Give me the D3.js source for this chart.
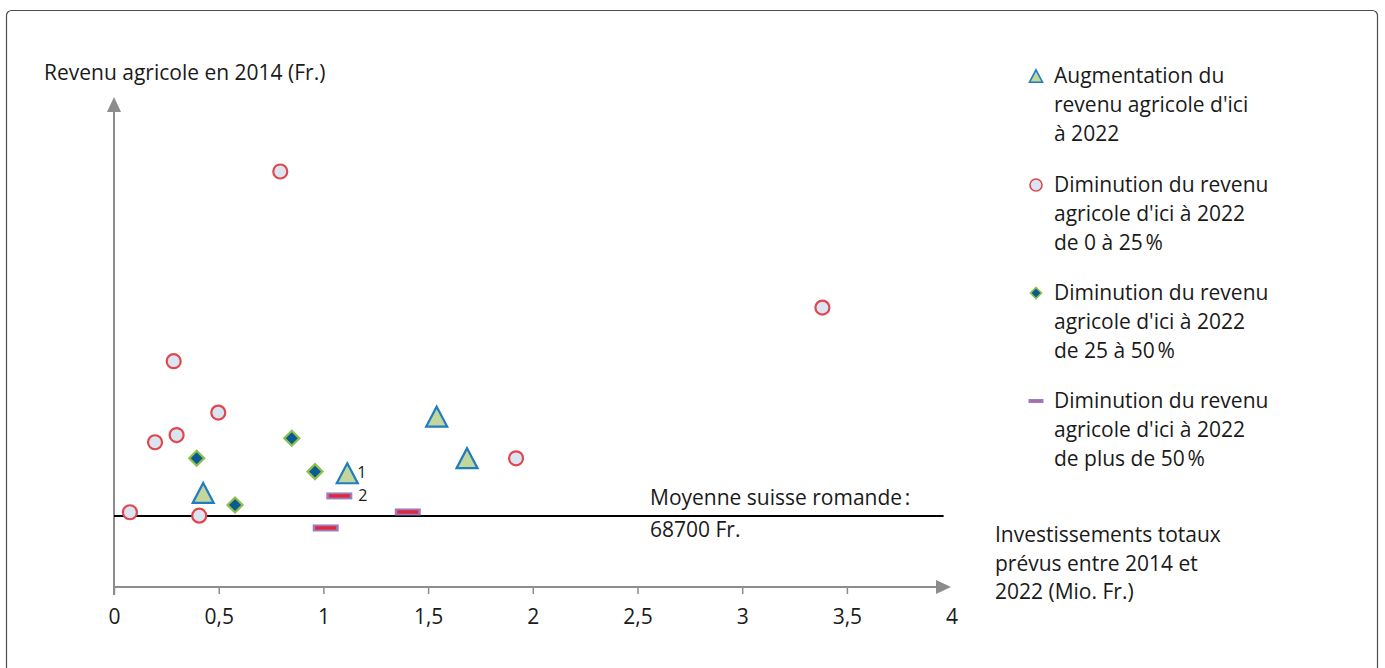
<!DOCTYPE html>
<html><head><meta charset="utf-8">
<script src="https://cdn.jsdelivr.net/npm/d3@7"></script>
<style>
body{margin:0;background:#fff;}
svg text{font-family:"Open Sans",sans-serif;fill:#1a1a1a;}
</style></head>
<body><svg id="c" width="1385" height="668"></svg>
<script>
// ---- data ----
const xTicks = [0, 0.5, 1, 1.5, 2, 2.5, 3, 3.5, 4];
const xTickLabels = ["0", "0,5", "1", "1,5", "2", "2,5", "3", "3,5", "4"];
const meanValue = 68700;
// Augmentation du revenu agricole
const incX = [0.426, 1.114, 1.541, 1.686];
const incY = [91000, 110000, 164800, 124600];
const incLabels = ["", "1", "", ""];
// Diminution 0 à 25 %
const d25X = [0.076, 0.196, 0.299, 0.498, 0.407, 0.794, 0.285, 3.383, 1.920];
const d25Y = [72300, 140000, 147000, 168700, 69000, 401900, 218400, 270300, 124500];
// Diminution 25 à 50 %
const d50X = [0.395, 0.849, 0.960, 0.578];
const d50Y = [124500, 143900, 111600, 79300];
// Diminution plus de 50 %
const dMoreX = [1.076, 1.011, 1.403];
const dMoreY = [88100, 57100, 72600];
const dMoreLabels = ["2", "", ""];
const legendLabels = [
  ["Augmentation du", "revenu agricole d'ici", "à 2022"],
  ["Diminution du revenu", "agricole d'ici à 2022", "de 0 à 25\u202F%"],
  ["Diminution du revenu", "agricole d'ici à 2022", "de 25 à 50\u202F%"],
  ["Diminution du revenu", "agricole d'ici à 2022", "de plus de 50\u202F%"]
];

const svg = d3.select("#c");
const x = d3.scaleLinear().domain([0, 4]).range([114, 951.6]);
const y = d3.scaleLinear().domain([0, 473000]).range([587, 98]);
const axisCol = "#8c8c8c";
const FS = 21;

// frame
svg.append("rect").attr("x", 6.5).attr("y", 10.5).attr("width", 1371).attr("height", 680)
  .attr("rx", 5).attr("fill", "none").attr("stroke", "#4d4d4d").attr("stroke-width", 1.2);

// axes
const xAxis = svg.append("g").attr("transform", `translate(0,${y(0)})`)
  .call(d3.axisBottom(x).tickValues(xTicks).tickSize(7).tickFormat((d, i) => xTickLabels[i]));
xAxis.attr("font-size", 21).attr("font-family", "'Open Sans',sans-serif");
xAxis.select(".domain").remove();
xAxis.selectAll(".tick line").attr("stroke", axisCol).attr("stroke-width", 1.5)
  .attr("opacity", d => d === 4 ? 0 : 1);
xAxis.selectAll(".tick text").style("font-size", "21px").attr("y", 37).attr("dy", 0)
  .attr("fill", "#1a1a1a");

svg.append("line").attr("x1", x(0)).attr("x2", 938).attr("y1", y(0)).attr("y2", y(0))
  .attr("stroke", axisCol).attr("stroke-width", 2);
svg.append("path").attr("d", `M${936},${y(0) - 7} L${951},${y(0)} L${936},${y(0) + 7} Z`).attr("fill", axisCol);
svg.append("line").attr("x1", x(0)).attr("x2", x(0)).attr("y1", y(0) + 8).attr("y2", 110)
  .attr("stroke", axisCol).attr("stroke-width", 2);
svg.append("path").attr("d", `M${x(0) - 7},${112} L${x(0)},${97} L${x(0) + 7},${112} Z`).attr("fill", axisCol);

// axis titles
svg.append("text").attr("x", 44).attr("y", 80).attr("font-size", FS).text("Revenu agricole en 2014 (Fr.)");
const xt = svg.append("text").attr("font-size", FS);
["Investissements totaux", "prévus entre 2014 et", "2022 (Mio. Fr.)"].forEach((t, i) =>
  xt.append("tspan").attr("x", 995).attr("y", 542 + i * 28.5).text(t));

// mean line
svg.append("line").attr("x1", x(0)).attr("x2", x(4) - 8).attr("y1", y(meanValue)).attr("y2", y(meanValue))
  .attr("stroke", "#000").attr("stroke-width", 2);
svg.append("text").attr("x", 650).attr("y", 505).attr("font-size", FS).text("Moyenne suisse romande\u202F:");
svg.append("text").attr("x", 650).attr("y", 537).attr("font-size", FS).text("68700 Fr.");

// marker helpers
function tri(g, s) {
  const h = s * 0.95;
  g.append("path").attr("d", `M0,${-h / 2} L${s / 2},${h / 2} L${-s / 2},${h / 2} Z`)
    .attr("fill", "#c3d69b").attr("stroke", "#1f7cc1").attr("stroke-width", s > 15 ? 2.2 : 1.6).attr("stroke-linejoin", "miter");
}
function circ(g, r) {
  g.append("circle").attr("r", r).attr("fill", "#dbe5f1").attr("stroke", "#e0474c").attr("stroke-width", r > 6 ? 2.2 : 1.6);
}
function dia(g, s) {
  g.append("path").attr("d", `M0,${-s / 2} L${s / 2},0 L0,${s / 2} L${-s / 2},0 Z`)
    .attr("fill", "#0b5a94").attr("stroke", "#8dc14c").attr("stroke-width", s > 12 ? 2.2 : 1.6);
}
function dash(g, w, h) {
  g.append("rect").attr("x", -w / 2).attr("y", -h / 2).attr("width", w).attr("height", h).attr("fill", "#9a7ec0");
  g.append("rect").attr("x", -w / 2 + 2.5).attr("y", -h / 2 + 1.8).attr("width", w - 5).attr("height", h - 3.6).attr("fill", "#e0283a");
}

const data = (xs, ys, ls) => xs.map((v, i) => ({ x: v, y: ys[i], l: ls ? ls[i] : "" }));

svg.selectAll("g.d25").data(data(d25X, d25Y)).join("g").attr("class", "d25")
  .attr("transform", d => `translate(${x(d.x)},${y(d.y)})`).each(function () { circ(d3.select(this), 7); });
svg.selectAll("g.d50").data(data(d50X, d50Y)).join("g").attr("class", "d50")
  .attr("transform", d => `translate(${x(d.x)},${y(d.y)})`).each(function () { dia(d3.select(this), 15); });
svg.selectAll("g.dm").data(data(dMoreX, dMoreY, dMoreLabels)).join("g").attr("class", "dm")
  .attr("transform", d => `translate(${x(d.x)},${y(d.y)})`).each(function () { dash(d3.select(this), 26, 7); });
svg.selectAll("g.inc").data(data(incX, incY, incLabels)).join("g").attr("class", "inc")
  .attr("transform", d => `translate(${x(d.x)},${y(d.y)})`).each(function () { tri(d3.select(this), 21); });

// point labels
svg.selectAll("text.pl").data([...data(incX, incY, incLabels), ...data(dMoreX, dMoreY, dMoreLabels)].filter(d => d.l))
  .join("text").attr("class", "pl").attr("font-size", 16)
  .attr("x", d => x(d.x) + (d.l === "1" ? 10 : 19)).attr("y", d => y(d.y) + 5).text(d => d.l);

// legend
const legTop = [76, 185, 293, 401];
legendLabels.forEach((lines, i) => {
  const g = svg.append("g").attr("transform", `translate(1036,${legTop[i]})`);
  if (i === 0) tri(g, 13);
  if (i === 1) circ(g, 6);
  if (i === 2) dia(g, 11);
  if (i === 3) dash(g, 15, 4);
  const t = svg.append("text").attr("font-size", FS);
  lines.forEach((s, j) => t.append("tspan").attr("x", 1054).attr("y", legTop[i] + 7 + j * 28.8).text(s));
});
</script></body></html>
